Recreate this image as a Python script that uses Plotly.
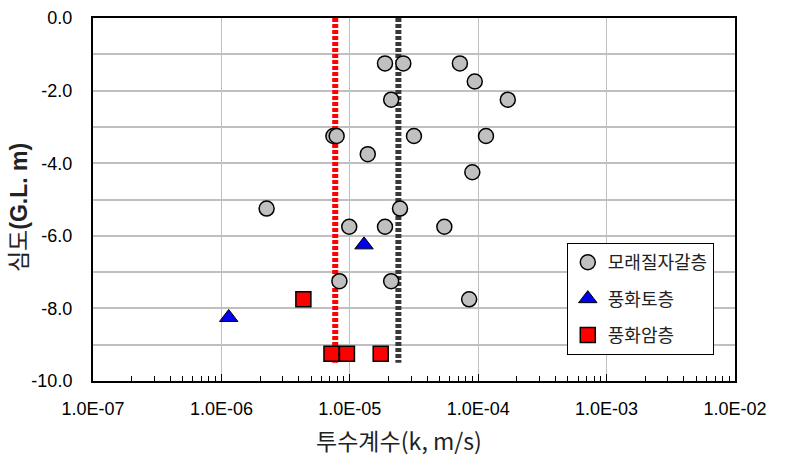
import plotly.graph_objects as go

# ---- data ----
sand_k = [1.88e-5, 2.61e-5, 7.2e-5, 9.4e-5, 2.1e-5, 1.7e-4, 7.45e-6, 7.9e-6, 3.16e-5, 1.15e-4,
          1.38e-5, 9.0e-5, 2.25e-6, 2.46e-5, 9.9e-6, 1.88e-5, 5.45e-5, 8.3e-6, 2.1e-5, 8.5e-5]
sand_d = [-1.25, -1.25, -1.25, -1.75, -2.25, -2.25, -3.25, -3.25, -3.25, -3.25,
          -3.75, -4.25, -5.25, -5.25, -5.75, -5.75, -5.75, -7.25, -7.25, -7.75]
soil_k = [1.29e-5, 1.14e-6]
soil_d = [-6.25, -8.25]
rock_k = [4.35e-6, 7.2e-6, 9.5e-6, 1.74e-5]
rock_d = [-7.75, -9.25, -9.25, -9.25]
rock_mean_k = [7.7e-6, 7.7e-6]
sand_mean_k = [2.39e-5, 2.39e-5]
mean_line_d = [0.0, -9.5]

x_tickvals = [1e-7, 1e-6, 1e-5, 1e-4, 1e-3, 1e-2]
x_ticktext = ["1.0E-07", "1.0E-06", "1.0E-05", "1.0E-04", "1.0E-03", "1.0E-02"]
y_tickvals = [0, -1, -2, -3, -4, -5, -6, -7, -8, -9, -10]
y_ticktext = ["0.0", "", "-2.0", "", "-4.0", "", "-6.0", "", "-8.0", "", "-10.0"]
minor_vals = [m * 10 ** e for e in range(-7, -2) for m in range(2, 10)]

names = ["모래질자갈층", "풍화토층", "풍화암층"]
x_title = "투수계수(k, m/s)"
y_title = "심도<b>(G.L. m)</b>"

LAT = "Liberation Sans, Arial, Noto Sans CJK KR"
KR = "Noto Sans CJK KR, Liberation Sans"

fig = go.Figure()
fig.add_trace(go.Scatter(x=rock_mean_k, y=mean_line_d, mode="lines", showlegend=False,
                         line=dict(color="#ff0000", width=6, dash="4px,2px"), hoverinfo="skip"))
fig.add_trace(go.Scatter(x=sand_mean_k, y=mean_line_d, mode="lines", showlegend=False,
                         line=dict(color="#383838", width=6, dash="4px,2px"), hoverinfo="skip"))
fig.add_trace(go.Scatter(x=sand_k, y=sand_d, mode="markers", name=names[0], legendgroup="a",
                         marker=dict(symbol="circle", size=15, color="#c0c0c0",
                                     line=dict(color="black", width=1.5))))
fig.add_trace(go.Scatter(x=soil_k, y=soil_d, mode="markers", name=names[1], legendgroup="b",
                         marker=dict(symbol="triangle-up", size=16, color="#0000ee",
                                     line=dict(color="black", width=1))))
fig.add_trace(go.Scatter(x=rock_k, y=rock_d, mode="markers", name=names[2], legendgroup="c",
                         marker=dict(symbol="square", size=15, color="#ff0000",
                                     line=dict(color="black", width=1.5))))

fig.update_layout(
    width=785, height=466,
    margin=dict(l=93, r=50, t=18, b=85),
    plot_bgcolor="white", paper_bgcolor="white",
    font=dict(family=LAT, color="black"),
    legend=dict(x=0.738, y=0.38, xanchor="left", yanchor="top",
                bgcolor="white", bordercolor="black", borderwidth=1,
                font=dict(family=KR, size=18, color="#222"),
                tracegroupgap=10, itemwidth=30),
    xaxis=dict(type="log", range=[-7, -2], automargin=False,
               tickvals=x_tickvals, ticktext=x_ticktext,
               tickfont=dict(size=18, family=LAT),
               ticks="inside", ticklen=7, tickcolor="black", ticklabelstandoff=10,
               showgrid=True, gridcolor="#c0c0c0", gridwidth=1,
               showline=True, linecolor="black", linewidth=2, mirror=True,
               minor=dict(tickvals=minor_vals, ticks="inside", ticklen=5, tickcolor="black", showgrid=False),
               zeroline=False),
    yaxis=dict(range=[-10, 0], automargin=False,
               tickvals=y_tickvals, ticktext=y_ticktext,
               tickfont=dict(size=18, family=LAT),
               showgrid=True, gridcolor="#c0c0c0", gridwidth=1.5,
               showline=True, linecolor="black", linewidth=2, mirror=True,
               ticks="", zeroline=False, ticklabelstandoff=15),
    annotations=[
        dict(text=x_title, xref="paper", yref="paper", x=0.4766, y=-0.1625,
             xanchor="center", yanchor="middle", showarrow=False,
             font=dict(family=KR, size=23, color="#222")),
        dict(text=y_title, xref="paper", yref="paper", x=-0.1153, y=0.479, textangle=-90,
             xanchor="center", yanchor="middle", showarrow=False,
             font=dict(family=LAT, size=23, color="#222")),
    ],
)

fig.write_html("out.html")
